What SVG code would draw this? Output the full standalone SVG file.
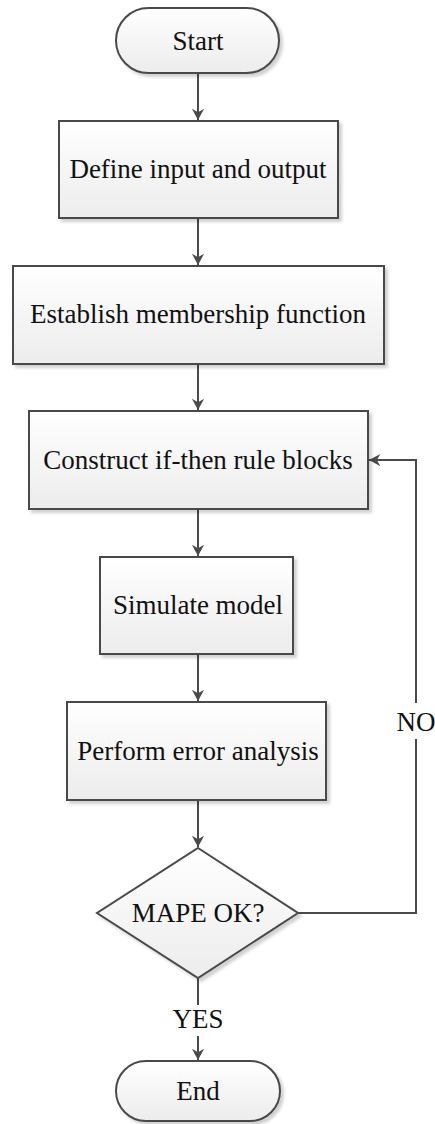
<svg xmlns="http://www.w3.org/2000/svg" width="435" height="1124" viewBox="0 0 435 1124">
<style>
.shape{fill:url(#g);stroke:#4a4a4a;stroke-width:2;filter:url(#sh)}
.lbl{font-family:"Liberation Serif","Times New Roman",serif;font-size:27px;fill:#111;text-anchor:middle}
.conn{fill:none;stroke:#4a4a4a;stroke-width:2}
</style>
<defs>
<linearGradient id="g" x1="0" y1="0" x2="0" y2="1">
<stop offset="0" stop-color="#ffffff"/>
<stop offset="1" stop-color="#ececec"/>
</linearGradient>
<filter id="sh" x="-10%" y="-10%" width="130%" height="130%">
<feDropShadow dx="3" dy="3" stdDeviation="1.5" flood-color="#000" flood-opacity="0.18"/>
</filter>
<marker id="ar" markerUnits="userSpaceOnUse" markerWidth="16" markerHeight="14" refX="13" refY="8" orient="auto" viewBox="0 0 16 16">
<path d="M0,1 L13,8 L0,15 L4,8 Z" fill="#4a4a4a"/>
</marker>
</defs>
<g id="connectors">
<path class="conn" d="M198,73 V120" marker-end="url(#ar)"/>
<path class="conn" d="M198,218 V265" marker-end="url(#ar)"/>
<path class="conn" d="M198,364 V410" marker-end="url(#ar)"/>
<path class="conn" d="M198,509 V556" marker-end="url(#ar)"/>
<path class="conn" d="M198,654 V701" marker-end="url(#ar)"/>
<path class="conn" d="M198,800 V847" marker-end="url(#ar)"/>
<path class="conn" d="M198,978 V1005"/>
<path class="conn" d="M198,1036 V1060" marker-end="url(#ar)"/>
<path class="conn" d="M298,913 H416 V739"/>
<path class="conn" d="M416,703 V460 H369" marker-end="url(#ar)"/>
<text class="lbl" x="416" y="731">NO</text>
<text class="lbl" x="198" y="1028">YES</text>
</g>
<g id="start">
<rect class="shape" x="116" y="8" width="163" height="65" rx="32.5"/>
<text class="lbl" x="198" y="50">Start</text>
</g>
<g id="define">
<rect class="shape" x="59" y="121" width="279" height="97"/>
<text class="lbl" x="198" y="178">Define input and output</text>
</g>
<g id="establish">
<rect class="shape" x="13" y="266" width="371" height="98"/>
<text class="lbl" x="198" y="323">Establish membership function</text>
</g>
<g id="construct">
<rect class="shape" x="29" y="411" width="339" height="98"/>
<text class="lbl" x="198" y="469">Construct if-then rule blocks</text>
</g>
<g id="simulate">
<rect class="shape" x="100" y="557" width="193" height="97"/>
<text class="lbl" x="198" y="614">Simulate model</text>
</g>
<g id="perform">
<rect class="shape" x="67" y="702" width="259" height="98"/>
<text class="lbl" x="198" y="760">Perform error analysis</text>
</g>
<g id="decision">
<polygon class="shape" points="198,848 298,913 198,978 97,913"/>
<text class="lbl" x="198" y="922">MAPE OK?</text>
</g>
<g id="end">
<rect class="shape" x="116" y="1061" width="164" height="60" rx="30"/>
<text class="lbl" x="198" y="1100">End</text>
</g>
</svg>
